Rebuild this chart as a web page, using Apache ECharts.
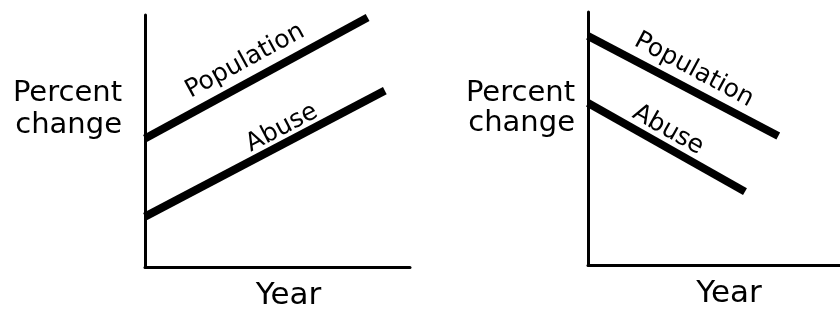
<!DOCTYPE html>
<html>
<head>
<meta charset="utf-8">
<title>Percent change vs Year</title>
<script src="https://cdn.jsdelivr.net/npm/echarts@6/dist/echarts.min.js"></script>
<style>
    html, body { margin: 0; padding: 0; background: #fff; }
    #main { width: 840px; height: 310px; }
</style>
</head>
<body>
<div id="main"></div>
<script>
// 数据：[年份位置, 百分比变化]，坐标轴无刻度，0-10 为相对刻度
var leftPopulation = [[0, 5.1], [8.4, 9.9]];
var leftAbuse = [[0, 2.0], [9.05, 7.0]];
var rightPopulation = [[0, 9.05], [7.55, 5.1]];
var rightAbuse = [[0, 6.4], [6.23, 2.9]];
var seriesNames = ['Population', 'Abuse'];
var yName = 'Percent\nchange';
var xName = 'Year';

var FONT = '"DejaVu Sans", sans-serif';

/****************坐标轴封装方法********************/
function makeAxis(name, gridIdx, pos, size, lh, vAlign, pad, gap) {
    return {
        type: 'value',
        gridIndex: gridIdx,
        position: pos,
        min: 0,
        max: 10,
        name: name,
        nameLocation: 'middle',
        nameRotate: 0,
        nameGap: gap,
        nameTextStyle: {
            color: '#000',
            fontFamily: FONT,
            fontSize: size,
            lineHeight: lh,
            verticalAlign: vAlign,
            padding: pad
        },
        axisLine: { show: true, onZero: false, lineStyle: { color: '#000', width: 3 } },
        axisTick: { show: false },
        axisLabel: { show: false },
        splitLine: { show: false }
    };
}

function makeLine(name, data, idx) {
    return {
        name: name,
        type: 'line',
        xAxisIndex: idx,
        yAxisIndex: idx,
        data: data,
        symbol: 'none',
        silent: true,
        lineStyle: { color: '#000', width: 8, cap: 'butt' }
    };
}

function lineLabel(text, x, y, deg) {
    return {
        type: 'text',
        x: x,
        y: y,
        rotation: deg * Math.PI / 180,
        style: {
            text: text,
            fill: '#000',
            font: '25px ' + FONT,
            align: 'center',
            verticalAlign: 'middle'
        }
    };
}

var myChart = echarts.init(document.getElementById('main'), null, { renderer: 'canvas' });

var option = {
    animation: false,
    backgroundColor: '#fff',
    grid: [
        { left: 145, top: 15, width: 265, height: 252, outerBoundsMode: 'none' },
        { left: 588, top: 12, width: 252, height: 253, outerBoundsMode: 'none' }
    ],
    xAxis: [
        makeAxis(xName, 0, 'bottom', 31, 31, 'top', [0, 0, 0, 22], 13),
        makeAxis(xName, 1, 'bottom', 31, 31, 'top', [0, 0, 0, 30], 13)
    ],
    yAxis: [
        makeAxis(yName, 0, 'left', 29, 32, 'bottom', 0, 23),
        makeAxis(yName, 1, 'left', 29, 30, 'bottom', 0, 13)
    ],
    series: [
        makeLine(seriesNames[0], leftPopulation, 0),
        makeLine(seriesNames[1], leftAbuse, 0),
        makeLine(seriesNames[0], rightPopulation, 1),
        makeLine(seriesNames[1], rightAbuse, 1)
    ],
    graphic: [
        lineLabel(seriesNames[0], 245, 61, 28.5),
        lineLabel(seriesNames[1], 282, 128, 27.7),
        lineLabel(seriesNames[0], 694, 70, -28.2),
        lineLabel(seriesNames[1], 668, 130, -29.3)
    ]
};

myChart.setOption(option);
</script>
</body>
</html>
